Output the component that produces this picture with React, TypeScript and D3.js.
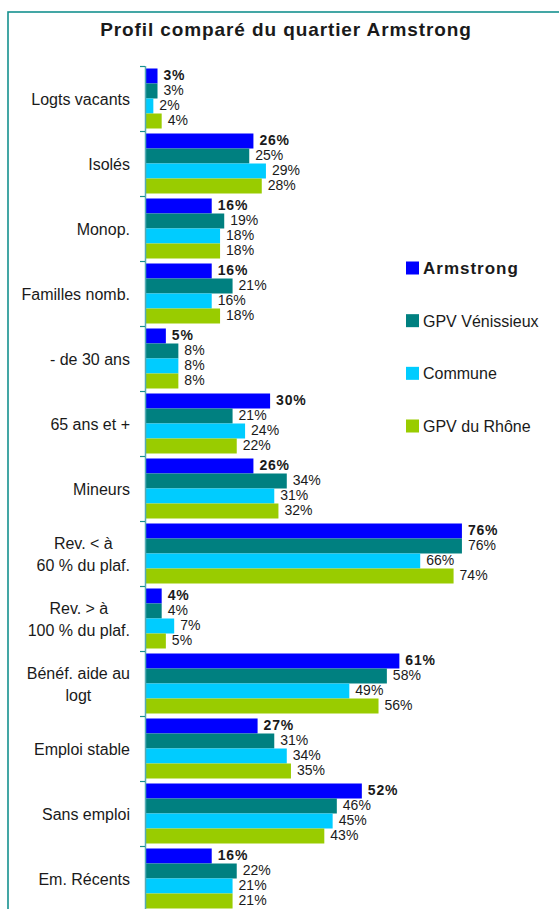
import { scaleLinear, scaleBand, scalePoint } from "d3";

const categories = [
  "Logts vacants",
  "Isolés",
  "Monop.",
  "Familles nomb.",
  "- de 30 ans",
  "65 ans et +",
  "Mineurs",
  "Rev. < à\n60 % du plaf.",
  "Rev. > à\n100 % du plaf.",
  "Bénéf. aide au\nlogt",
  "Emploi stable",
  "Sans emploi",
  "Em. Récents",
];

const seriesNames = ["Armstrong", "GPV Vénissieux", "Commune", "GPV du Rhône"];
const armstrong = [3, 26, 16, 16, 5, 30, 26, 76, 4, 61, 27, 52, 16];
const gpvVenissieux = [3, 25, 19, 21, 8, 21, 34, 76, 4, 58, 31, 46, 22];
const commune = [2, 29, 18, 16, 8, 24, 31, 66, 7, 49, 34, 45, 21];
const gpvRhone = [4, 28, 18, 18, 8, 22, 32, 74, 5, 56, 35, 43, 21];
const seriesValues = [armstrong, gpvVenissieux, commune, gpvRhone];
const colors = ["#0000FF", "#008080", "#00CCFF", "#99CC00"];

const W = 559;
const H = 909;
const FONT = "'Liberation Sans', Arial, sans-serif";
const TEXT = "#1a1a1a";

// measure label widths so wrapped labels can be centred as a block
const measureCtx = document.createElement("canvas").getContext("2d");
function textWidth(s: string, font: string) {
  if (!measureCtx) return s.length * 8;
  measureCtx.font = font;
  return measureCtx.measureText(s).width;
}

export default function App() {
  const x = scaleLinear().domain([0, 100]).range([145, 562]);
  const y = scaleBand<string>().domain(categories).range([66, 66 + 65 * categories.length]);
  const yInner = scaleBand<string>().domain(seriesNames).range([2.5, 62.5]);
  const legendY = scalePoint<string>().domain(seriesNames).range([268, 426]);

  const labelRight = 130;
  const lineH = 22.4;

  return (
    <div style={{ position: "absolute", left: 0, top: 0, width: W, height: H }}>
      <svg width={W} height={H} style={{ display: "block", fontFamily: FONT }}>
        <rect x={0} y={0} width={W} height={H} fill="#fff" />
        {/* frame */}
        <rect x={8} y={12} width={W + 20} height={H + 20} fill="none" stroke="#16918f" strokeWidth={1.6} />

        <text
          x={286}
          y={36}
          textAnchor="middle"
          fontSize={19}
          fontWeight="bold"
          letterSpacing={0.9}
          fill={TEXT}
        >
          Profil comparé du quartier Armstrong
        </text>

        {/* category labels */}
        {categories.map((c) => {
          const lines = c.split("\n");
          const cy = (y(c) ?? 0) + y.bandwidth() / 2;
          const maxW = Math.max(...lines.map((l) => textWidth(l, `16px ${FONT}`)));
          const multi = lines.length > 1;
          return (
            <text
              key={c}
              fontSize={16}
              fill={TEXT}
              textAnchor={multi ? "middle" : "end"}
              x={multi ? labelRight - maxW / 2 : labelRight}
            >
              {lines.map((l, i) => (
                <tspan
                  key={i}
                  x={multi ? labelRight - maxW / 2 : labelRight}
                  y={cy + 6.5 + (i - (lines.length - 1) / 2) * lineH}
                >
                  {l}
                </tspan>
              ))}
            </text>
          );
        })}

        {/* bars and value labels */}
        {categories.map((c, ci) => (
          <g key={c} transform={`translate(0,${y(c)})`}>
            {seriesNames.map((s, si) => {
              const v = seriesValues[si][ci];
              const by = yInner(s) ?? 0;
              const bh = yInner.bandwidth();
              return (
                <g key={s}>
                  <rect x={x(0)} y={by} width={x(v) - x(0)} height={bh} fill={colors[si]} />
                  <text
                    x={x(v) + 6}
                    y={by + bh / 2 + 4}
                    fontSize={14}
                    fontWeight={si === 0 ? "bold" : "normal"}
                    letterSpacing={si === 0 ? 0.8 : 0}
                    fill={TEXT}
                  >
                    {v}%
                  </text>
                </g>
              );
            })}
          </g>
        ))}

        {/* axis */}
        <line x1={145.5} x2={145.5} y1={66} y2={H} stroke="#55aab4" strokeWidth={1.5} />
        {categories.map((c) => (
          <line
            key={c}
            x1={140}
            x2={145}
            y1={(y(c) ?? 0) + 0.5}
            y2={(y(c) ?? 0) + 0.5}
            stroke="#16918f"
            strokeWidth={1.2}
          />
        ))}

        {/* legend */}
        {seriesNames.map((s, si) => {
          const ly = legendY(s) ?? 0;
          return (
            <g key={s}>
              <rect x={406} y={ly - 6.5} width={13} height={13} fill={colors[si]} />
              <text
                x={423}
                y={ly + 6}
                fontSize={si === 0 ? 17 : 16}
                fontWeight={si === 0 ? "bold" : "normal"}
                letterSpacing={si === 0 ? 1 : 0}
                fill={TEXT}
              >
                {s}
              </text>
            </g>
          );
        })}
      </svg>
    </div>
  );
}
